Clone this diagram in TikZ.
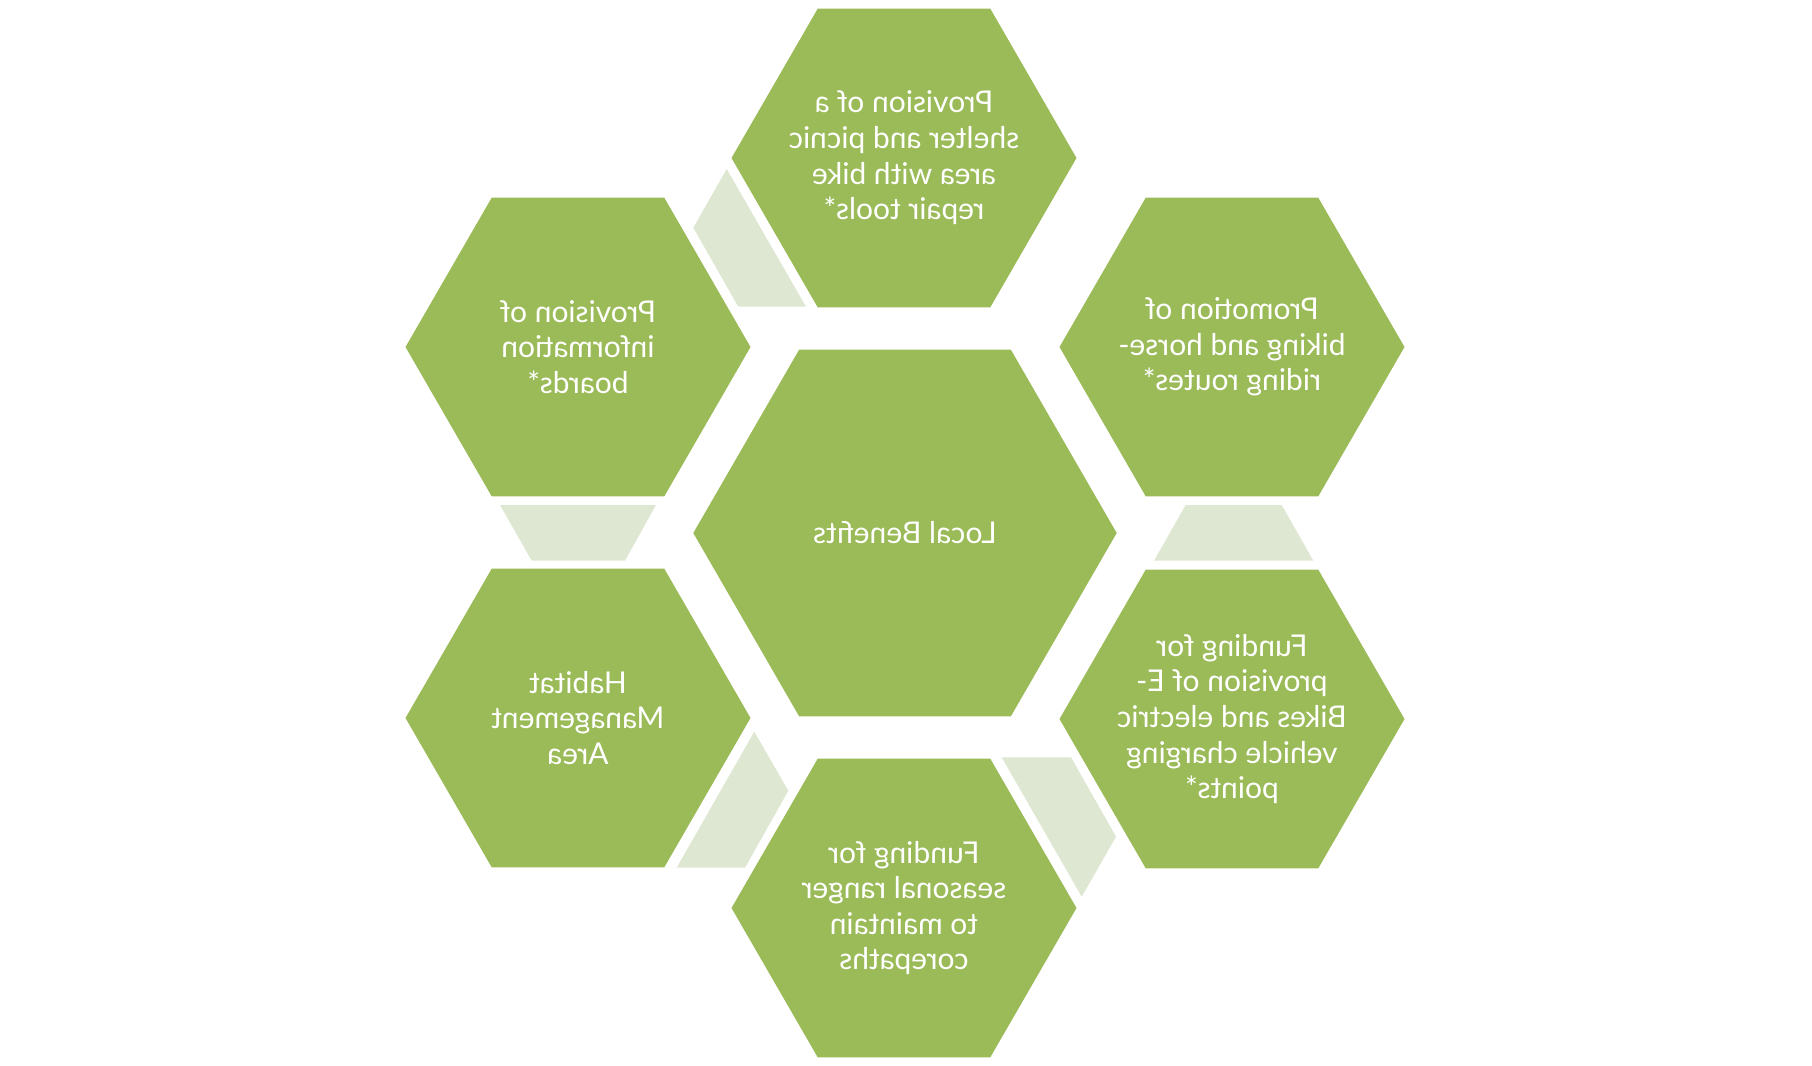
\documentclass[tikz,border=0pt]{standalone}
\usepackage{fontspec}
\setmainfont{Lato}
\usetikzlibrary{shapes.geometric}

\definecolor{hexgreen}{HTML}{9BBB59}
\definecolor{hexpale}{HTML}{DEE7D1}

\begin{document}
\begin{tikzpicture}[
    x=0.5pt, y=-0.5pt,
    hexbox/.style={regular polygon, regular polygon sides=6, fill=hexgreen, inner sep=0pt,
        minimum size=172.5pt},
    bighex/.style={hexbox, minimum size=211.7pt},
    hextext/.style={text=white, align=center, xscale=-1, transform shape,
        font=\fontsize{15}{17.8}\selectfont},
    pale/.style={fill=hexpale}
]
\useasboundingbox (0,0) rectangle (1812,1066);

% centre and the six around it (mirrored)
\node[bighex] (local) at (905,533) {};
\node[hexbox] (shelter) at (904,158) {};
\node[hexbox] (boards) at (578,347) {};
\node[hexbox] (routes) at (1232,347) {};
\node[hexbox] (habitat) at (578,718) {};
\node[hexbox] (ebikes) at (1232,719) {};
\node[hexbox] (ranger) at (904,908) {};

\node[hextext] (local-t) at (local) {Local Benefits};
\node[hextext] (shelter-t) at (shelter) {Provision of a\\shelter and picnic\\area with bike\\repair tools*};
\node[hextext] (boards-t) at (boards) {Provision of\\information\\boards*};
\node[hextext] (routes-t) at (routes) {Promotion of\\biking and horse-\\riding routes*};
\node[hextext] (habitat-t) at (habitat) {Habitat\\Management\\Area};
\node[hextext] (ebikes-t) at (ebikes) {Funding for\\provision of E-\\Bikes and electric\\vehicle charging\\points*};
\node[hextext] (ranger-t) at (ranger) {Funding for\\seasonal ranger\\to maintain\\corepaths};

% pale pieces between the outer hexagons
\fill[pale] (726.7,169) -- (693.3,227.7) -- (738.3,306.7) -- (806,306.7) -- cycle;
\fill[pale] (500,505) -- (656,505) -- (625,560.7) -- (531.7,560.7) -- cycle;
\fill[pale] (1185.7,505) -- (1281.7,505) -- (1313.3,560.7) -- (1154,560.7) -- cycle;
\fill[pale] (754.3,731.7) -- (788.3,790.7) -- (745,867.7) -- (676.7,867.7) -- cycle;
\fill[pale] (1001.7,757.3) -- (1071,757.3) -- (1116,836.7) -- (1081.7,896.7) -- cycle;

\end{tikzpicture}
\end{document}
